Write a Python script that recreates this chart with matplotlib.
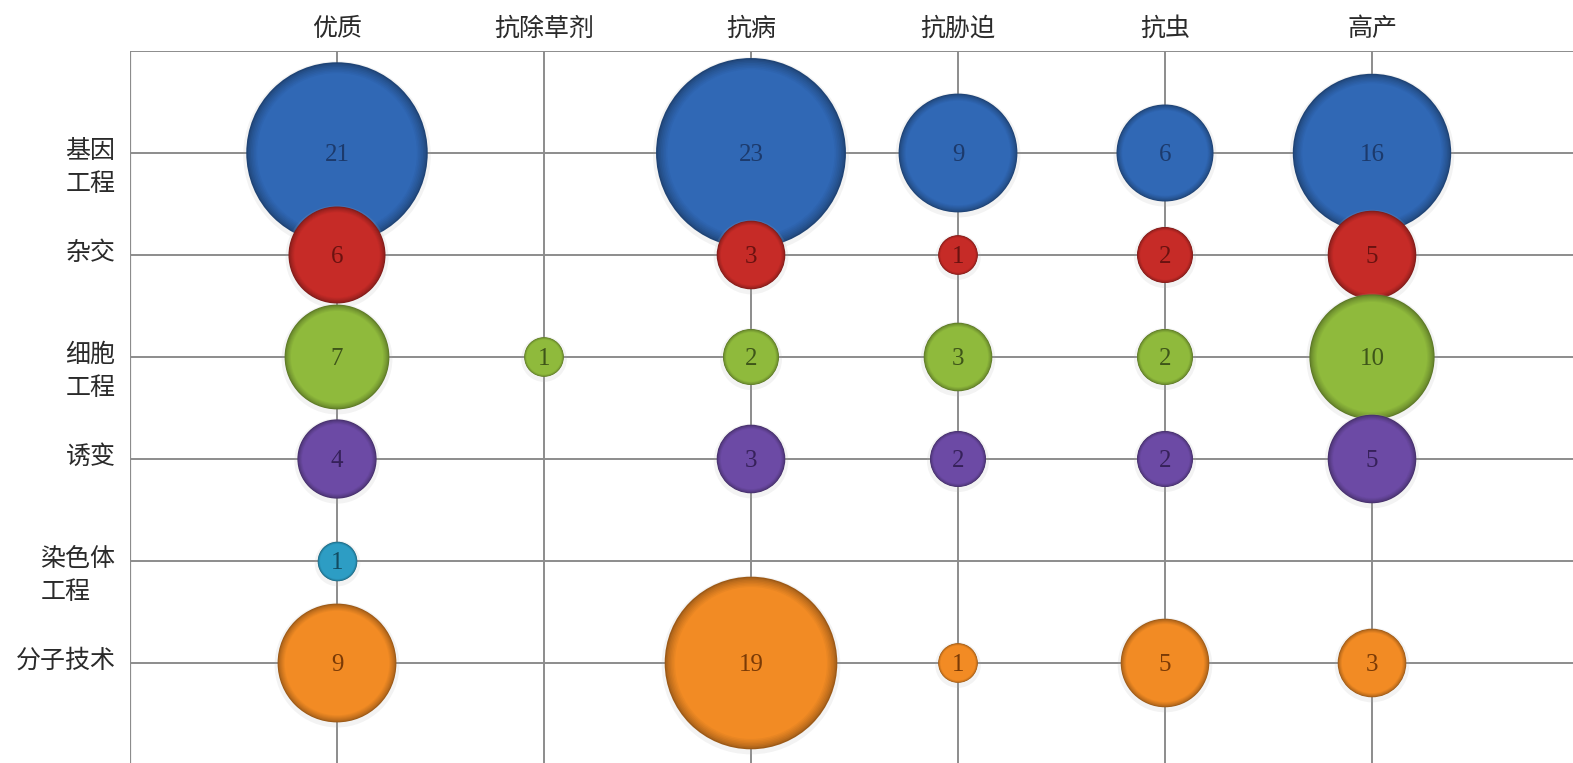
import numpy as np
import matplotlib
matplotlib.use("Agg")
import matplotlib.pyplot as plt
from matplotlib.colors import to_rgb

plt.rcParams['font.family'] = ['Noto Sans CJK SC', 'DejaVu Sans']

# categories along the top and techniques down the side
traits = ['优质', '抗除草剂', '抗病', '抗胁迫', '抗虫', '高产']
methods = ['基因\n工程', '杂交', '细胞\n工程', '诱变', '染色体\n工程', '分子技术']

# counts per technique, one value per trait (0 = no bubble)
gene_eng = [21, 0, 23, 9, 6, 16]
hybrid = [6, 0, 3, 1, 2, 5]
cell_eng = [7, 1, 2, 3, 2, 10]
mutation = [4, 0, 3, 2, 2, 5]
chromo_eng = [1, 0, 0, 0, 0, 0]
molecular = [9, 0, 19, 1, 5, 3]
series = [gene_eng, hybrid, cell_eng, mutation, chromo_eng, molecular]

base_colors = ['#3068b5', '#c62b27', '#8fba3c', '#6c4aa5', '#2d9dc4', '#f28b24']
text_colors = ['#1c3a6c', '#6a1210', '#3e5519', '#36215a', '#124b60', '#7a3a06']

DPI = 100
W, H = 1573, 763
COL_PX, ROW_PX = 207, 102      # grid spacing in pixels
R_UNIT = 19.8                  # bubble radius (px) for value 1


def mix(c1, c2, t):
    a, b = np.array(to_rgb(c1)), np.array(to_rgb(c2))
    return tuple(a * (1 - t) + b * t)


fig = plt.figure(figsize=(W / DPI, H / DPI), dpi=DPI)
ax = fig.add_axes([130 / W, 1 - (51 + 7 * ROW_PX) / H,
                   7 * COL_PX / W, 7 * ROW_PX / H])
ax.set_xlim(0, 7)
ax.set_ylim(7, 0)

# grid
for k in range(1, 7):
    ax.axvline(k, color='#8c8c8c', lw=1.4, zorder=1)
for k in range(0, 7):
    ax.axhline(k, color='#8c8c8c', lw=1.4, zorder=1)
ax.axvline(0, color='#8c8c8c', lw=1.6, zorder=1)
for s in ax.spines.values():
    s.set_visible(False)
ax.set_xticks([])
ax.set_yticks([])

xs = np.arange(1, len(traits) + 1)

# bubbles: thin darker rim shading into the flat body colour
layers = np.linspace(1.0, 0.88, 8)
for i, vals in enumerate(series):
    vals = np.array(vals, dtype=float)
    mask = vals > 0
    x = xs[mask]
    y = np.full(mask.sum(), i + 1)
    r_px = R_UNIT * np.sqrt(vals[mask])
    z = 3 + i * 2
    # soft halo
    ax.scatter(x, y + 0.02, s=(2 * (r_px + 3) * 72 / DPI) ** 2,
               color='#b0b0b0', alpha=0.15, linewidths=0, zorder=z)
    dark = mix(base_colors[i], '#000000', 0.35)
    for j, f in enumerate(layers):
        t = (j / (len(layers) - 1)) ** 0.7
        ax.scatter(x, y, s=(2 * r_px * f * 72 / DPI) ** 2,
                   color=mix(dark, base_colors[i], t), linewidths=0, zorder=z)
    for xi, yi, v in zip(x, y, vals[mask]):
        ax.text(xi, yi + 0.02, str(int(v)), ha='center', va='center',
                fontsize=18, family='Liberation Serif', color=text_colors[i],
                zorder=z + 1)

# column headers above the plot
for k, name in enumerate(traits):
    ax.text(k + 1, -0.22, name, ha='center', va='center', fontsize=18,
            color='#2a2a2a', clip_on=False)

# row labels on the left
for k, name in enumerate(methods):
    ax.text(-0.07, k + 1 - 0.15, name, ha='right', va='top',
            multialignment='left', fontsize=18, linespacing=1.35,
            color='#2a2a2a', clip_on=False)

fig.savefig('out.png', dpi=DPI)
